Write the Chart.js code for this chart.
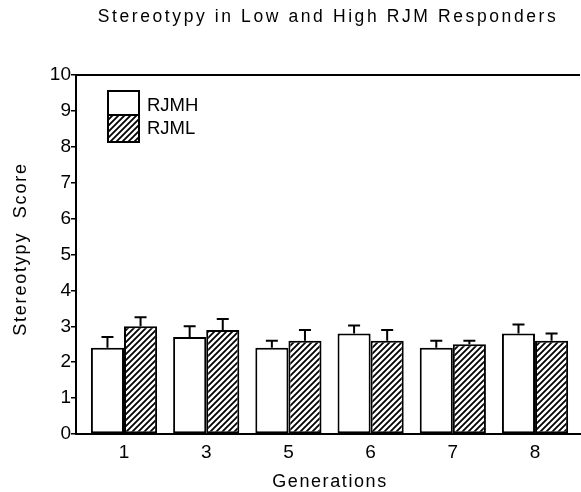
<!DOCTYPE html>
<html>
<head>
<meta charset="utf-8">
<script src="https://cdn.jsdelivr.net/npm/chart.js@4.4.1/dist/chart.umd.min.js"></script>
<style>
  html, body { margin: 0; padding: 0; background: #fff; }
  #wrap { width: 581px; height: 492px; }
</style>
</head>
<body>
<div id="wrap"><canvas id="c" width="581" height="492"></canvas></div>
<script>
// ---- Data ----
const generations = ['1', '3', '5', '6', '7', '8'];
const rjmhValues = [2.4, 2.7, 2.4, 2.8, 2.4, 2.8];
const rjmhErrors = [0.3, 0.3, 0.2, 0.22, 0.2, 0.25];
const rjmlValues = [3.0, 2.9, 2.6, 2.6, 2.5, 2.6];
const rjmlErrors = [0.25, 0.3, 0.3, 0.3, 0.1, 0.2];
const yTicks = [0, 1, 2, 3, 4, 5, 6, 7, 8, 9, 10];
const titleText = 'Stereotypy in Low and High RJM Responders';
const xTitle = 'Generations';
const yTitle = 'Stereotypy  Score';

const FONT = '"Liberation Sans", Arial, Helvetica, sans-serif';

function makeHatch() {
  const s = 6;
  const c = document.createElement('canvas');
  c.width = s; c.height = s;
  const g = c.getContext('2d');
  g.fillStyle = '#fff';
  g.fillRect(0, 0, s, s);
  g.strokeStyle = '#000';
  g.lineWidth = 1.8;
  g.beginPath();
  g.moveTo(0, s); g.lineTo(s, 0);
  g.moveTo(-s / 2, s / 2); g.lineTo(s / 2, -s / 2);
  g.moveTo(s / 2, s * 1.5); g.lineTo(s * 1.5, s / 2);
  g.stroke();
  return g.createPattern(c, 'repeat');
}
const hatch = makeHatch();

const errorBars = {
  id: 'errorBars',
  afterDatasetsDraw(chart) {
    const ctx = chart.ctx;
    const y = chart.scales.y;
    chart.data.datasets.forEach((ds, di) => {
      const meta = chart.getDatasetMeta(di);
      meta.data.forEach((bar, i) => {
        const v = ds.data[i].y;
        const top = y.getPixelForValue(v + ds.errors[i]);
        ctx.save();
        ctx.strokeStyle = '#000';
        ctx.lineWidth = 2;
        ctx.beginPath();
        ctx.moveTo(bar.x, bar.y);
        ctx.lineTo(bar.x, top);
        ctx.moveTo(bar.x - 6, top);
        ctx.lineTo(bar.x + 6, top);
        ctx.stroke();
        ctx.restore();
      });
    });
  }
};

const decorations = {
  id: 'decorations',
  afterDraw(chart) {
    const ctx = chart.ctx;
    const ca = chart.chartArea;
    const y = chart.scales.y;
    ctx.save();
    // top frame line at 10
    ctx.strokeStyle = '#000';
    ctx.lineWidth = 2;
    ctx.beginPath();
    const yt = y.getPixelForValue(10);
    ctx.moveTo(ca.left, yt);
    ctx.lineTo(ca.right, yt);
    ctx.stroke();

    ctx.fillStyle = '#000';
    // title
    ctx.font = '17.5px ' + FONT;
    ctx.letterSpacing = '2.6px';
    ctx.textAlign = 'center';
    ctx.textBaseline = 'alphabetic';
    ctx.fillText(titleText, 328, 22);
    // x title
    ctx.font = '18px ' + FONT;
    ctx.letterSpacing = '1.6px';
    ctx.fillText(xTitle, 330, 486.5);
    // y title
    ctx.save();
    ctx.translate(26, 249);
    ctx.rotate(-Math.PI / 2);
    ctx.letterSpacing = '1.8px';
    ctx.fillText(yTitle, 0, 0);
    ctx.restore();

    // legend
    ctx.letterSpacing = '0px';
    const items = chart.data.datasets;
    const boxes = [[108, 91, 31, 24], [108, 115, 31, 27]];
    const texts = [106, 129];
    items.forEach((ds, i) => {
      const [bx, by, bw, bh] = boxes[i];
      ctx.fillStyle = ds.backgroundColor;
      ctx.fillRect(bx, by, bw, bh);
      ctx.strokeStyle = '#000';
      ctx.lineWidth = 2;
      ctx.strokeRect(bx, by, bw, bh);
      ctx.fillStyle = '#000';
      ctx.font = '18.5px ' + FONT;
      ctx.textAlign = 'left';
      ctx.textBaseline = 'middle';
      ctx.fillText(ds.label, 147, texts[i]);
    });
    ctx.restore();
  }
};

const chart = new Chart(document.getElementById('c'), {
  type: 'bar',
  data: {
    datasets: [
      {
        label: 'RJMH',
        data: rjmhValues.map((v, i) => ({ x: i, y: v })),
        errors: rjmhErrors,
        backgroundColor: '#ffffff',
        borderColor: '#000000',
        borderWidth: 2,
        borderSkipped: false,
        barPercentage: 1.0,
        categoryPercentage: 0.805
      },
      {
        label: 'RJML',
        data: rjmlValues.map((v, i) => ({ x: i, y: v })),
        errors: rjmlErrors,
        backgroundColor: hatch,
        borderColor: '#000000',
        borderWidth: 2,
        borderSkipped: false,
        barPercentage: 1.0,
        categoryPercentage: 0.805
      }
    ]
  },
  options: {
    responsive: false,
    animation: false,
    events: [],
    layout: { padding: { top: 75, right: 1, left: 0, bottom: 0 } },
    plugins: {
      legend: { display: false },
      title: { display: false },
      tooltip: { enabled: false }
    },
    scales: {
      x: {
        type: 'linear',
        min: -0.584,
        max: 5.547,
        offset: false,
        afterFit(scale) { scale.height = 58; },
        afterBuildTicks(scale) { scale.ticks = generations.map((g, i) => ({ value: i })); },
        ticks: {
          color: '#000',
          font: { family: FONT, size: 19 },
          padding: 7,
          autoSkip: false,
          maxRotation: 0,
          callback: (v) => generations[v]
        },
        grid: { display: true, drawOnChartArea: false, drawTicks: false },
        border: { display: true, color: '#000', width: 2 }
      },
      y: {
        type: 'linear',
        min: 0,
        max: 10,
        afterFit(scale) { scale.width = 76; },
        afterBuildTicks(scale) { scale.ticks = yTicks.map(v => ({ value: v })); },
        ticks: {
          color: '#000',
          font: { family: FONT, size: 19 },
          padding: 0
        },
        grid: { drawOnChartArea: false, drawTicks: true, tickLength: 5, color: '#000', lineWidth: 1.5 },
        border: { display: true, color: '#000', width: 2 }
      }
    }
  },
  plugins: [errorBars, decorations]
});
</script>
</body>
</html>
